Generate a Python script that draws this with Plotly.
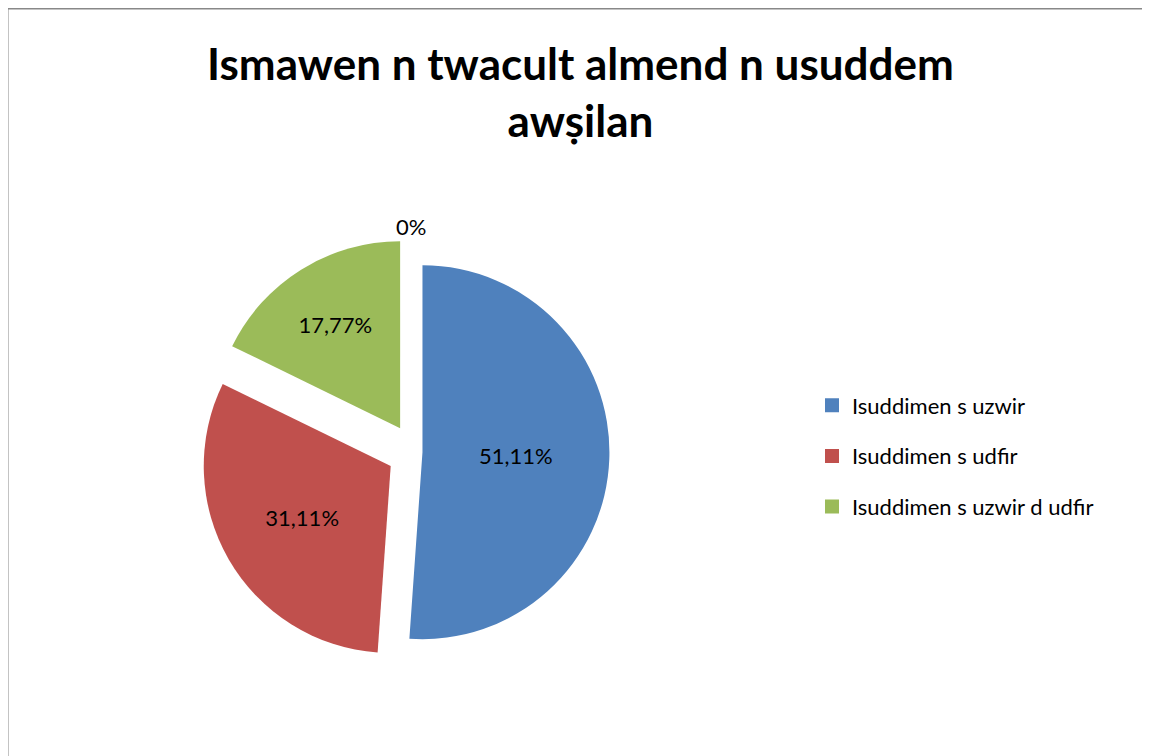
import plotly.graph_objects as go

categories = ["Isuddimen s uzwir", "Isuddimen s udfir", "Isuddimen s uzwir d udfir"]
values = [51.11, 31.11, 17.77]
value_labels = ["51,11%", "31,11%", "17,77%"]
zero_label = "0%"
title_lines = ["Ismawen n twacult almend n usuddem", "awṣilan"]
colors = ["#4F81BD", "#C0504D", "#9BBB59"]

OFF = 8  # default page body margin
W, H = 1150 - OFF, 756 - OFF
FONT = "Lato, Open Sans, sans-serif"

def px_x(x):
    return (x - OFF) / W

def px_y(y):
    return 1 - (y - OFF) / H

cx, cy, half = 415, 452, 215

fig = go.Figure()
fig.add_trace(go.Pie(
    labels=categories,
    values=values,
    text=value_labels,
    textinfo="text",
    textposition="inside",
    insidetextorientation="horizontal",
    textfont=dict(family=FONT, size=22, color="black"),
    marker=dict(colors=colors, line=dict(width=0)),
    sort=False,
    direction="clockwise",
    rotation=0,
    pull=[0.04, 0.15, 0.15],
    domain=dict(x=[px_x(cx - half), px_x(cx + half)], y=[px_y(cy + half), px_y(cy - half)]),
    hoverinfo="label+text",
    showlegend=False,
))

# legend entries (one group per category for wider spacing)
for name, col in zip(categories, colors):
    fig.add_trace(go.Scatter(
        x=[None], y=[None], mode="markers", name=name, legendgroup=name,
        marker=dict(symbol="square", size=14, color=col),
        hoverinfo="skip",
    ))

fig.update_layout(
    width=W, height=H,
    margin=dict(l=0, r=0, t=0, b=0),
    paper_bgcolor="white",
    plot_bgcolor="white",
    xaxis=dict(visible=False),
    yaxis=dict(visible=False),
    legend=dict(
        x=px_x(812), xanchor="left",
        y=px_y(456), yanchor="middle",
        font=dict(family=FONT, size=22, color="black"),
        tracegroupgap=19,
        bgcolor="rgba(0,0,0,0)",
    ),
    annotations=[
        dict(
            text="<b>" + "<br>".join(title_lines) + "</b>",
            xref="paper", yref="paper",
            x=px_x(580), y=px_y(91), xanchor="center", yanchor="middle",
            showarrow=False,
            font=dict(family=FONT, size=44, color="black"),
        ),
        dict(
            text=zero_label, xref="paper", yref="paper",
            x=px_x(411), y=px_y(226), xanchor="center", yanchor="middle",
            showarrow=False,
            font=dict(family=FONT, size=22, color="black"),
        ),
    ],
    shapes=[
        dict(type="line", xref="paper", yref="paper",
             x0=px_x(7.5), x1=1.0, y0=px_y(8.5), y1=px_y(8.5),
             line=dict(color="#888888", width=2)),
        dict(type="line", xref="paper", yref="paper",
             x0=px_x(7.5), x1=px_x(7.5), y0=0.0, y1=px_y(8.5),
             line=dict(color="#888888", width=2)),
    ],
)

fig.write_html("out.html")
